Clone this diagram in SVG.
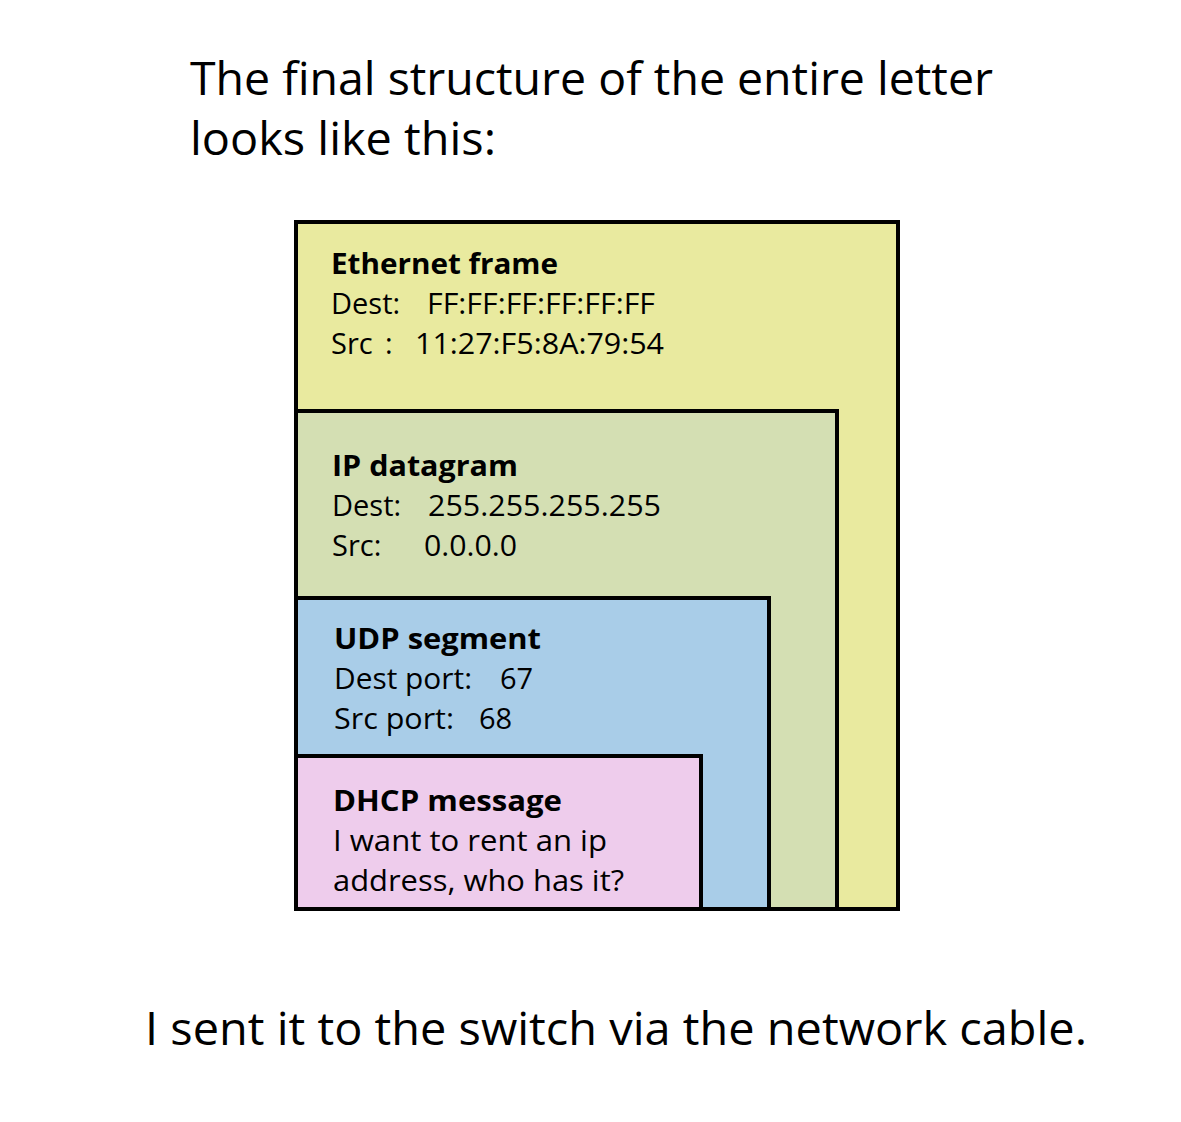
<svg xmlns="http://www.w3.org/2000/svg" width="1181" height="1122" viewBox="0 0 1181 1122">
<style>
.box{stroke:#000;stroke-width:4}
.t{font-family:"Open Sans","Noto Sans","Liberation Sans",sans-serif;fill:#000}
.big{font-size:46px}
.b{font-size:29px;font-weight:bold}
.n{font-size:29px}
</style>
<rect width="1181" height="1122" fill="#fff"/>
<g id="title">
<text class="t big" x="190" y="95" textLength="803" lengthAdjust="spacingAndGlyphs">The final structure of the entire letter</text>
<text class="t big" x="190" y="155" textLength="306" lengthAdjust="spacingAndGlyphs">looks like this:</text>
</g>
<g id="ethernet">
<rect class="box" x="296" y="222" width="602" height="687" fill="#E9EA9F"/>
<text class="t b" x="331" y="274" textLength="227" lengthAdjust="spacingAndGlyphs">Ethernet frame</text>
<text class="t n" x="331" y="314">Dest:</text>
<text class="t n" x="427" y="314" textLength="228" lengthAdjust="spacingAndGlyphs">FF:FF:FF:FF:FF:FF</text>
<text class="t n" x="331" y="354">Src</text>
<text class="t n" x="385" y="354">:</text>
<text class="t n" x="415" y="354" textLength="249" lengthAdjust="spacingAndGlyphs">11:27:F5:8A:79:54</text>
</g>
<g id="ip">
<rect class="box" x="296" y="411" width="541" height="498" fill="#D4DFB3"/>
<text class="t b" x="332" y="476" textLength="186" lengthAdjust="spacingAndGlyphs">IP datagram</text>
<text class="t n" x="332" y="516">Dest:</text>
<text class="t n" x="428" y="516" textLength="233" lengthAdjust="spacingAndGlyphs">255.255.255.255</text>
<text class="t n" x="332" y="556">Src:</text>
<text class="t n" x="424" y="556" textLength="93" lengthAdjust="spacingAndGlyphs">0.0.0.0</text>
</g>
<g id="udp">
<rect class="box" x="296" y="598" width="473" height="311" fill="#A9CDE8"/>
<text class="t b" x="334" y="649" textLength="207" lengthAdjust="spacingAndGlyphs">UDP segment</text>
<text class="t n" x="334" y="689" textLength="138" lengthAdjust="spacingAndGlyphs">Dest port:</text>
<text class="t n" x="500" y="689">67</text>
<text class="t n" x="334" y="729" textLength="120" lengthAdjust="spacingAndGlyphs">Src port:</text>
<text class="t n" x="479" y="729">68</text>
</g>
<g id="dhcp">
<rect class="box" x="296" y="756" width="405" height="153" fill="#EECCEC"/>
<text class="t b" x="333" y="811" textLength="229" lengthAdjust="spacingAndGlyphs">DHCP message</text>
<text class="t n" x="333" y="851" textLength="274" lengthAdjust="spacingAndGlyphs">I want to rent an ip</text>
<text class="t n" x="333" y="891" textLength="291" lengthAdjust="spacingAndGlyphs">address, who has it?</text>
</g>
<g id="connectors"></g>
<g id="footer">
<text class="t big" x="145" y="1045" textLength="942" lengthAdjust="spacingAndGlyphs">I sent it to the switch via the network cable.</text>
</g>
</svg>
